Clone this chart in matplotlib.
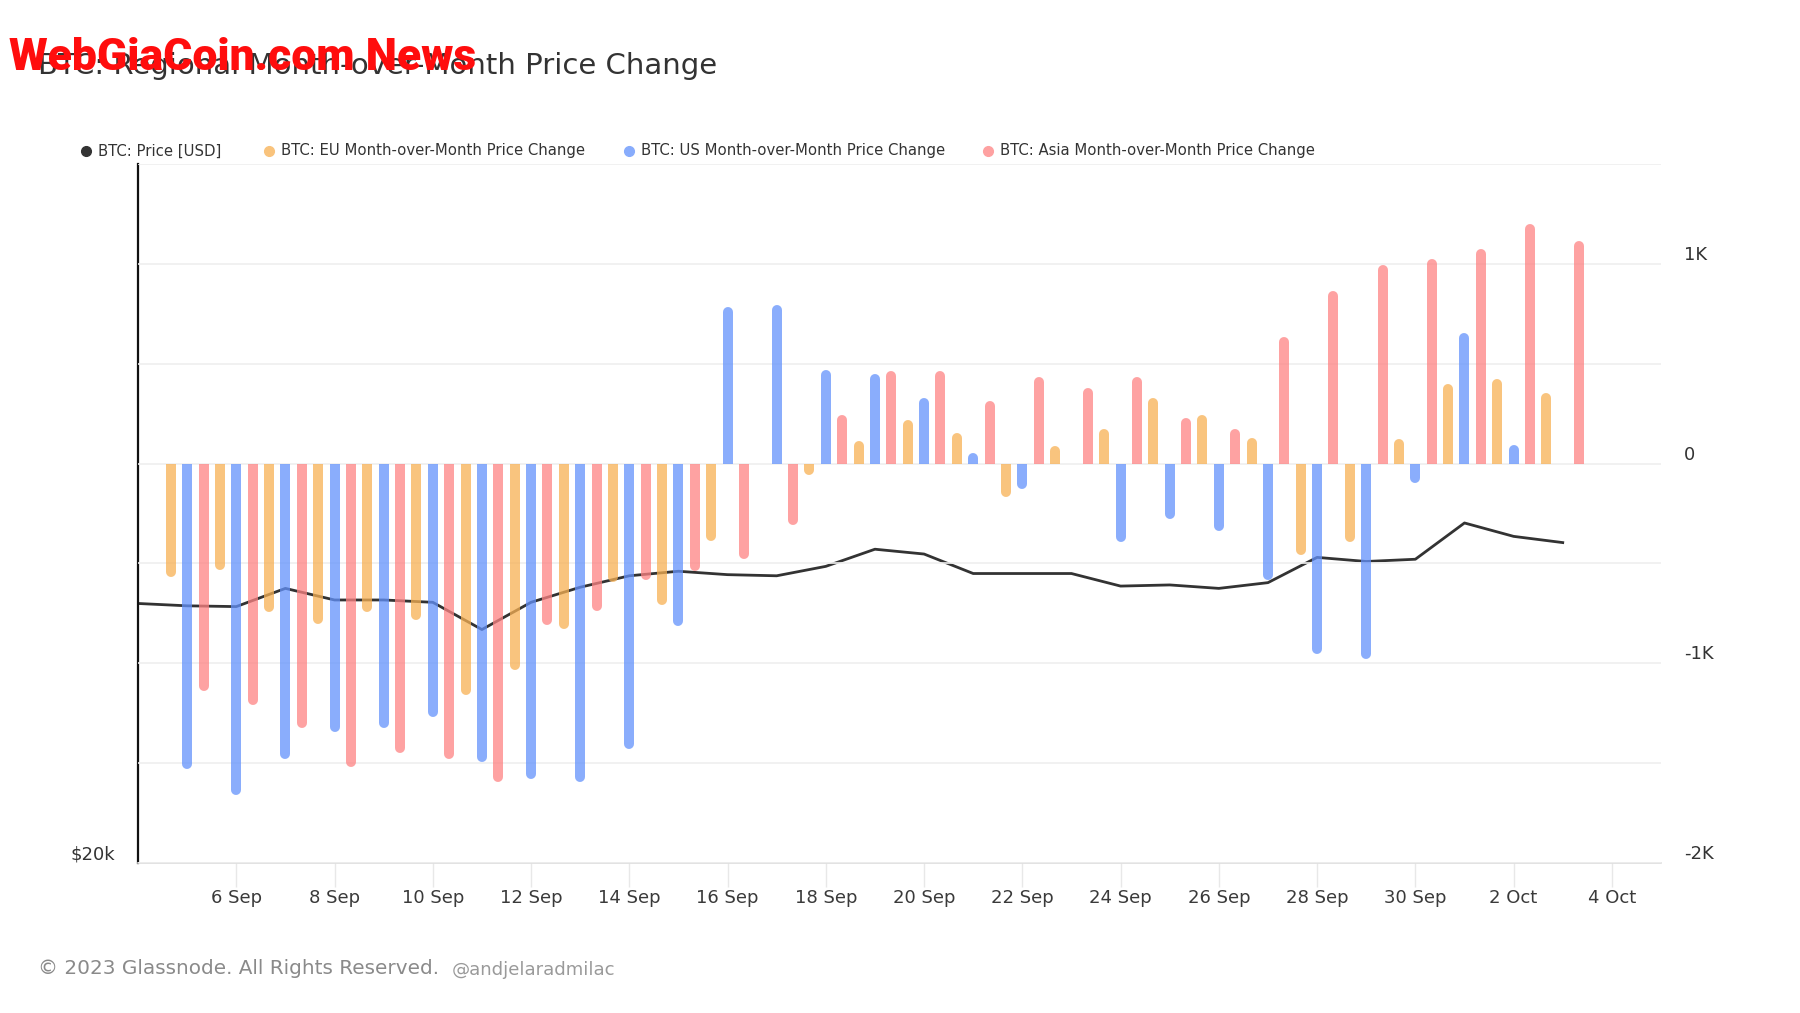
import numpy as np
import matplotlib
matplotlib.use("Agg")
import matplotlib.pyplot as plt
import matplotlib.dates as mdates
from matplotlib.collections import LineCollection
from matplotlib.patches import Rectangle
from matplotlib.lines import Line2D
from matplotlib.ticker import NullLocator

# ---------------- data ----------------
price_dates = ['2023-09-04', '2023-09-05', '2023-09-06', '2023-09-07', '2023-09-08',
               '2023-09-09', '2023-09-10', '2023-09-11', '2023-09-12', '2023-09-13',
               '2023-09-14', '2023-09-15', '2023-09-16', '2023-09-17', '2023-09-18',
               '2023-09-19', '2023-09-20', '2023-09-21', '2023-09-22', '2023-09-23',
               '2023-09-24', '2023-09-25', '2023-09-26', '2023-09-27', '2023-09-28',
               '2023-09-29', '2023-09-30', '2023-10-01', '2023-10-02', '2023-10-03']
price = [25870, 25810, 25790, 26260, 25960, 25960, 25900, 25210, 25900, 26290,
         26590, 26710, 26620, 26590, 26840, 27300, 27170, 26650, 26650, 26650,
         26320, 26350, 26260, 26410, 27080, 26970, 27030, 28020, 27650, 27480]

bar_dates = price_dates[1:]   # 5 Sep .. 3 Oct
eu_change = [-570, -532, -742, -803, -742, -783, -1158, -1032, -828, -595, -708, -388,
             -29, -59, 114, 220, 153, -166, 86, 175, 328, 244, 129, -458, -392, 122,
             400, 422, 355]
us_change = [-1528, -1662, -1478, -1345, -1323, -1270, -1495, -1578, -1592, -1428, -815, 786,
             795, 470, 447, 328, 55, -129, -12, -393, -277, -339, -585, -953, -978, -95,
             655, 92, 5]
asia_change = [-1140, -1208, -1323, -1517, -1450, -1478, -1592, -808, -740, -583, -537, -480,
               -310, 244, 462, 462, 311, 432, 380, 432, 230, 175, 632, 863, 992, 1022,
               1075, 1202, 1113]

xtick_dates = ['2023-09-06', '2023-09-08', '2023-09-10', '2023-09-12', '2023-09-14',
               '2023-09-16', '2023-09-18', '2023-09-20', '2023-09-22', '2023-09-24',
               '2023-09-26', '2023-09-28', '2023-09-30', '2023-10-02', '2023-10-04']
xtick_labels = ['6 Sep', '8 Sep', '10 Sep', '12 Sep', '14 Sep', '16 Sep', '18 Sep', '20 Sep',
                '22 Sep', '24 Sep', '26 Sep', '28 Sep', '30 Sep', '2 Oct', '4 Oct']
right_ticks = [-2000, -1000, 0, 1000]
right_labels = ['-2K', '-1K', '0', '1K']
right_minor = [-1500, -500, 500, 1500]

title = "BTC: Regional Month-over-Month Price Change"
legend_labels = ["BTC: Price [USD]", "BTC: EU Month-over-Month Price Change",
                 "BTC: US Month-over-Month Price Change", "BTC: Asia Month-over-Month Price Change"]

# ---------------- style ----------------
W_PX, H_PX = 1800, 1013
fig = plt.figure(figsize=(W_PX / 100, H_PX / 100), dpi=100)
plt.rcParams['font.family'] = ['DejaVu Sans']

L, R, T, B = 138, 1661, 164, 863
ax = fig.add_axes([L / W_PX, 1 - B / H_PX, (R - L) / W_PX, (B - T) / H_PX])
ax2 = ax.twinx()

x0 = mdates.datestr2num('2023-09-04')
x1 = mdates.datestr2num('2023-10-05')

# price line (left log axis)
px = mdates.datestr2num(price_dates)
ax.plot(px, price, color='#333333', lw=2.0, zorder=2, solid_joinstyle='round')
ax.set_yscale('log')
ax.set_ylim(20000, 40000)
ax.set_xlim(x0, x1)
ax.yaxis.set_minor_locator(NullLocator())
ax.set_yticks([20000])
ax.set_yticklabels([r'\$20k'])
for t in ax.get_yticklabels():
    t.set_verticalalignment('bottom')
ax.tick_params(axis='y', length=0, pad=16.5, labelsize=13, labelcolor='#333333')
ax.set_xticks(mdates.datestr2num(xtick_dates))
ax.set_xticklabels(xtick_labels)
ax.xaxis.set_minor_locator(NullLocator())
ax.tick_params(axis='x', length=17, width=1, color='#e8e8e8', pad=2, labelsize=13,
               labelcolor='#3a3a3a')
for s in ['top', 'right']:
    ax.spines[s].set_visible(False)
ax.spines['left'].set_color('#111111')
ax.spines['left'].set_linewidth(1.6)
ax.spines['bottom'].set_color('#dddddd')
ax.spines['bottom'].set_linewidth(1.2)

# bars (right axis)
ylo, yhi = -2000, 1500
ax2.set_ylim(ylo, yhi)
ax2.set_xlim(x0, x1)
for s in ax2.spines.values():
    s.set_visible(False)
ax2.set_yticks(right_ticks)
ax2.set_yticklabels(right_labels)
ax2.set_yticks(right_minor, minor=True)
for t in ax2.get_yticklabels():
    t.set_verticalalignment('bottom')
ax2.tick_params(axis='y', which='both', length=0, pad=16.5, labelsize=13, labelcolor='#333333')
ax2.grid(True, which='both', axis='y', color='#efefef', lw=1.2)
ax2.set_axisbelow(True)

bar_px = 10.0
lw_pt = bar_px * 72 / 100
r_data = (bar_px / 2) * (yhi - ylo) / (B - T)
bx = mdates.datestr2num(bar_dates)
alpha = 0.75
series = [(eu_change, '#F7B053', -1 / 3), (us_change, '#6392FC', 0.0), (asia_change, '#FE8383', 1 / 3)]
for vals, col, off in series:
    pos, neg = [], []
    for xv, v in zip(bx + off, vals):
        if v >= 0:
            pos.append([(xv, 0), (xv, max(v - r_data, 0))])
        else:
            neg.append([(xv, 0), (xv, min(v + r_data, 0))])
    for segs, clip in [(pos, (x0 - 5, 0, 50, 1e5)), (neg, (x0 - 5, -1e5, 50, 1e5))]:
        lc = LineCollection(segs, linewidths=lw_pt, colors=col, alpha=alpha, capstyle='round',
                            zorder=3)
        ax2.add_collection(lc)
        rect = Rectangle((clip[0], clip[1]), clip[2], clip[3], transform=ax2.transData)
        lc.set_clip_path(rect)

# legend (manual)
leg_cols = ['#333333', '#F9C37C', '#88ACFC', '#FEA1A1']
dot_x = [86, 269, 629, 988]
ly = 1 - 151 / H_PX
for lab, c, dx in zip(legend_labels, leg_cols, dot_x):
    fig.add_artist(Line2D([dx / W_PX], [ly], marker='o', ms=7, color=c, mec=c, ls='none',
                          transform=fig.transFigure))
    fig.text((dx + 12) / W_PX, ly, lab, fontsize=10.7, color='#333333', va='center', ha='left')

# title & watermark
fig.text(38 / W_PX, 1 - 66 / H_PX, title, fontsize=21, color='#333333', va='center', ha='left')
fig.text(9 / W_PX, 1 - 58 / H_PX, 'WebGiaCoin.com News', fontsize=32, color='#ff0d0d',
         fontweight='heavy', family=['Roboto', 'DejaVu Sans'],
         va='center', ha='left')

# footer
fig.text(38 / W_PX, 1 - 968 / H_PX, '© 2023 Glassnode. All Rights Reserved.', fontsize=14.4,
         color='#8a8a8a', va='center', ha='left')
fig.text(452 / W_PX, 1 - 970 / H_PX, '@andjelaradmilac', fontsize=13.1, color='#9a9a9a',
         va='center', ha='left')

fig.savefig('out.png', dpi=100, facecolor='white')
